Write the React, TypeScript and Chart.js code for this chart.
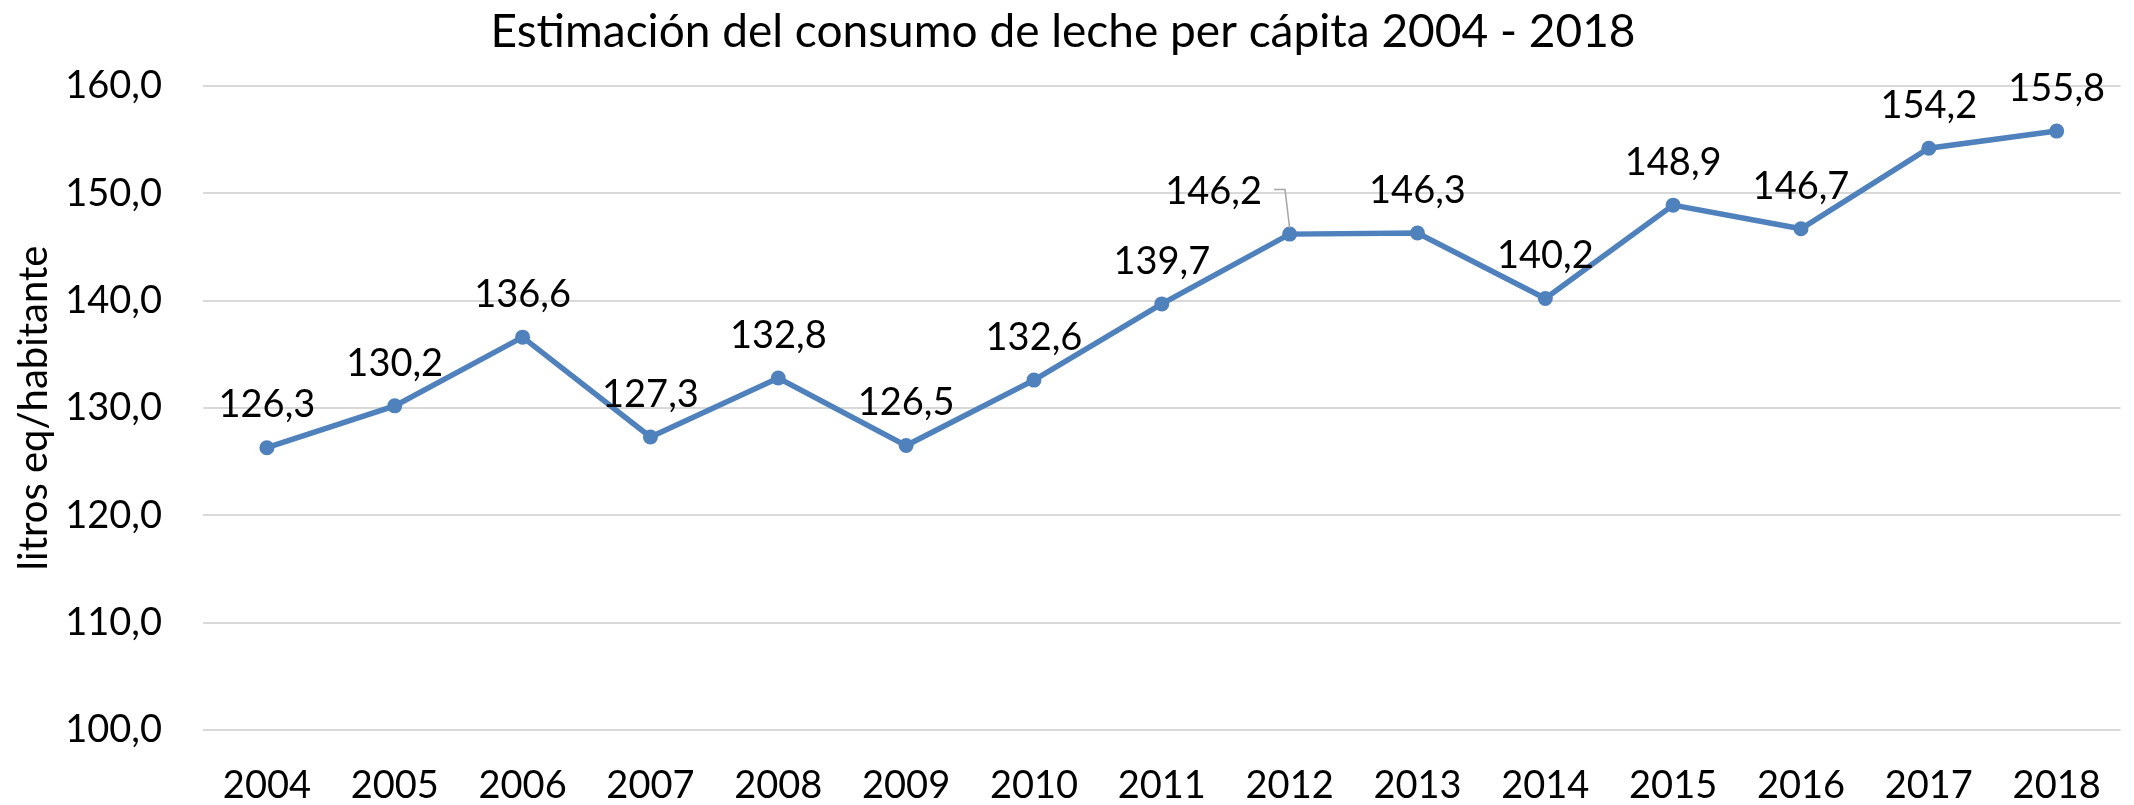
import React, { useEffect, useRef } from 'react';
import { Chart, registerables } from 'chart.js';

Chart.register(...registerables);

const years = ['2004', '2005', '2006', '2007', '2008', '2009', '2010', '2011', '2012', '2013', '2014', '2015', '2016', '2017', '2018'];
const consumo = [126.3, 130.2, 136.6, 127.3, 132.8, 126.5, 132.6, 139.7, 146.2, 146.3, 140.2, 148.9, 146.7, 154.2, 155.8];
const yMin = 100;
const yMax = 160;
const yStep = 10;
const chartTitle = 'Estimación del consumo de leche per cápita 2004 - 2018';
const yAxisTitle = 'litros eq/habitante';

const FONT = 'Lato';
const fmt = (v: number) => v.toFixed(1).replace('.', ',');

const leaderIndex = 8;

const textPlugin = {
  id: 'customTexts',
  afterDraw(chart: any) {
    const ctx = chart.ctx;
    ctx.save();
    ctx.fillStyle = '#000000';
    // chart title
    ctx.font = `46px ${FONT}`;
    ctx.textAlign = 'center';
    ctx.textBaseline = 'alphabetic';
    ctx.fillText(chartTitle, 1063, 47);
    // y axis title
    ctx.font = `40px ${FONT}`;
    ctx.translate(47, (chart.chartArea.top + chart.chartArea.bottom) / 2);
    ctx.rotate(-Math.PI / 2);
    ctx.fillText(yAxisTitle, 0, 0);
    ctx.restore();
  },
};

const labelPlugin = {
  id: 'pointValueLabels',
  afterDatasetsDraw(chart: any) {
    const ctx = chart.ctx;
    const meta = chart.getDatasetMeta(0);
    ctx.save();
    ctx.font = `38px ${FONT}`;
    ctx.fillStyle = '#000000';
    ctx.textAlign = 'center';
    ctx.textBaseline = 'middle';
    meta.data.forEach((pt: any, i: number) => {
      const text = fmt(consumo[i]);
      let x = pt.x;
      const y = pt.y - 42.5;
      if (i === leaderIndex) {
        x = pt.x - 76;
        const w = ctx.measureText(text).width;
        ctx.strokeStyle = '#a6a6a6';
        ctx.lineWidth = 1.5;
        ctx.beginPath();
        ctx.moveTo(x + w / 2 + 12, y - 2);
        ctx.lineTo(x + w / 2 + 23, y - 2);
        ctx.lineTo(pt.x, pt.y - 6);
        ctx.stroke();
      }
      ctx.fillText(text, x, y);
    });
    ctx.restore();
  },
};

export default function App() {
  const ref = useRef<HTMLCanvasElement | null>(null);

  useEffect(() => {
    if (!ref.current) return;
    const tickFont = { family: FONT, size: 38 };
    const chart = new Chart(ref.current, {
      type: 'line',
      data: {
        labels: years,
        datasets: [
          {
            data: consumo,
            borderColor: '#4F81BD',
            backgroundColor: '#4F81BD',
            borderWidth: 5.5,
            pointRadius: 7.5,
            pointBackgroundColor: '#4F81BD',
            pointBorderColor: '#4F81BD',
            pointBorderWidth: 0,
            tension: 0,
            fill: false,
          },
        ],
      },
      options: {
        animation: false,
        responsive: false,
        maintainAspectRatio: false,
        layout: { padding: { left: 0, right: 4, top: 86, bottom: 0 } },
        plugins: {
          legend: { display: false },
          tooltip: { enabled: false },
          title: { display: false },
        },
        scales: {
          x: {
            type: 'category',
            offset: true,
            grid: { display: false, drawTicks: false },
            border: { display: false },
            ticks: { font: tickFont, color: '#000000', padding: 33, maxRotation: 0, autoSkip: false },
            afterFit(s: any) {
              s.height = 75;
            },
          },
          y: {
            min: yMin,
            max: yMax,
            ticks: {
              stepSize: yStep,
              font: tickFont,
              color: '#000000',
              padding: 41,
              callback: (v: any) => fmt(Number(v)),
            },
            grid: { color: '#d9d9d9', lineWidth: 2, drawTicks: false },
            border: { display: false },
            afterFit(s: any) {
              s.width = 203;
            },
          },
        },
      },
      plugins: [labelPlugin, textPlugin],
    } as any);
    return () => chart.destroy();
  }, []);

  return (
    <div style={{ position: 'absolute', left: 0, top: 0, width: 2134, height: 805, background: '#ffffff' }}>
      <canvas ref={ref} width={2134} height={805} style={{ width: 2134, height: 805, display: 'block' }} />
    </div>
  );
}
